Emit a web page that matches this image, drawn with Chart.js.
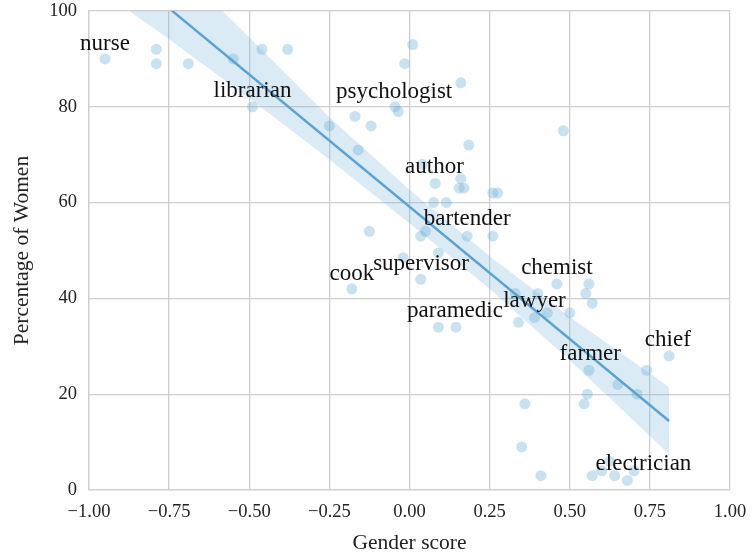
<!DOCTYPE html>
<html>
<head>
<meta charset="utf-8">
<script src="https://cdn.jsdelivr.net/npm/chart.js@4"></script>
<style>
  body { margin: 0; background: #fff; }
  #wrap { width: 752px; height: 557px; }
</style>
</head>
<body>
<div id="wrap"><canvas id="grafico"></canvas></div>
<script>
// pontos (gender score, % women)
const scoreX = [-0.95, -0.79, -0.79, -0.69, -0.55, -0.46, -0.38, -0.49, -0.25, -0.17, -0.12, -0.16,
  -0.045, -0.035, -0.015, 0.01, 0.16, 0.185, 0.48, 0.04, 0.08, 0.16, 0.155, 0.17, 0.26, 0.275,
  0.075, 0.115, 0.05, 0.035, 0.18, 0.26, -0.125, -0.02, 0.09, 0.035, -0.18, 0.09, 0.145,
  0.33, 0.40, 0.46, 0.56, 0.55, 0.57, 0.43, 0.50, 0.34, 0.39,
  0.56, 0.74, 0.65, 0.71, 0.81, 0.555, 0.545, 0.36, 0.35, 0.41,
  0.57, 0.60, 0.625, 0.64, 0.68, 0.70];
const womenY = [90, 92, 89, 89, 90, 92, 92, 80, 76, 78, 76, 71,
  80, 79, 89, 93, 85, 72, 75, 68, 64, 65, 63, 63, 62, 62,
  60, 60, 54, 53, 53, 53, 54, 48.5, 49.5, 44, 42, 34, 34,
  41, 41, 43, 43, 41, 39, 37, 37, 35, 36,
  25, 25, 22, 20, 28, 20, 18, 18, 9, 3,
  3, 4, 6, 3, 2, 4];

// reta de regressao e banda de confianca
const fitX = [-0.95, 0.81];
const fitY = [111.6, 14.4];
const bandX = [-0.95, -0.75, -0.5, -0.25, 0, 0.25, 0.5, 0.81];
const bandLow = [103.6, 94.1, 81.8, 69.0, 55.7, 42.0, 27.1, 7.5];
const bandHigh = [125.0, 111.0, 94.5, 77.8, 62.7, 48.8, 36.1, 21.5];

// rotulos das profissoes
const jobNames = ['nurse', 'librarian', 'psychologist', 'author', 'bartender', 'supervisor', 'cook',
  'paramedic', 'lawyer', 'chemist', 'chief', 'farmer', 'electrician'];
const jobX = [-0.95, -0.49, -0.048, 0.078, 0.18, 0.036, -0.18, 0.142, 0.39, 0.46, 0.806, 0.564, 0.73];
const jobY = [93.2, 83.3, 83.1, 67.4, 56.6, 47.2, 45.1, 37.4, 39.5, 46.3, 31.3, 28.4, 5.4];

const xTicks = [-1, -0.75, -0.5, -0.25, 0, 0.25, 0.5, 0.75, 1];
const yTicks = [0, 20, 40, 60, 80, 100];

const serif = "'Liberation Serif', serif";
const azul = 'rgb(94, 163, 208)';

function pares(xs, ys) {
  var out = [];
  for (var i = 0; i < xs.length; i++) {
    out.push({ x: xs[i], y: ys[i] });
  }
  return out;
}

const rotulos = {
  id: 'rotulos',
  afterDatasetsDraw(chart) {
    const ctx = chart.ctx;
    const sx = chart.scales.x, sy = chart.scales.y;
    ctx.save();
    ctx.font = '23px ' + serif;
    ctx.fillStyle = '#111';
    ctx.textAlign = 'center';
    ctx.textBaseline = 'middle';
    for (var i = 0; i < jobNames.length; i++) {
      ctx.fillText(jobNames[i], sx.getPixelForValue(jobX[i]), sy.getPixelForValue(jobY[i]));
    }
    ctx.restore();
  }
};

new Chart(document.getElementById('grafico'), {
  type: 'scatter',
  data: {
    datasets: [
      {
        type: 'line',
        data: pares(bandX, bandHigh),
        borderWidth: 0,
        pointRadius: 0,
        fill: '+1',
        backgroundColor: 'rgba(107, 174, 214, 0.25)',
        order: 3
      },
      {
        type: 'line',
        data: pares(bandX, bandLow),
        borderWidth: 0,
        pointRadius: 0,
        fill: false,
        order: 3
      },
      {
        data: pares(scoreX, womenY),
        pointRadius: 5.5,
        pointHoverRadius: 5.5,
        borderWidth: 0,
        backgroundColor: 'rgba(107, 174, 214, 0.36)',
        order: 2
      },
      {
        type: 'line',
        data: pares(fitX, fitY),
        borderColor: azul,
        borderWidth: 2.5,
        pointRadius: 0,
        fill: false,
        order: 1
      }
    ]
  },
  options: {
    responsive: true,
    maintainAspectRatio: false,
    animation: false,
    events: [],
    layout: { padding: { top: 11, right: 22, left: 0, bottom: 0 } },
    plugins: { legend: { display: false }, tooltip: { enabled: false } },
    scales: {
      x: {
        type: 'linear',
        min: -1,
        max: 1,
        afterBuildTicks: function (axis) { axis.ticks = xTicks.map(v => ({ value: v })); },
        afterFit: function (axis) {
          axis.height = 67;
          axis.paddingLeft = 0;
          axis.paddingRight = 0;
        },
        grid: { color: '#cfcfcf', lineWidth: 1.3, drawTicks: false },
        border: { color: '#cfcfcf', width: 1.3 },
        ticks: {
          padding: 11,
          color: '#222',
          font: { family: serif, size: 18.5 },
          callback: v => v.toFixed(2).replace('-', '\u2212')
        },
        title: {
          display: true,
          text: 'Gender score',
          color: '#222',
          font: { family: serif, size: 21.5 },
          padding: { top: 0, bottom: 1 }
        }
      },
      y: {
        min: 0,
        max: 100,
        afterBuildTicks: function (axis) { axis.ticks = yTicks.map(v => ({ value: v })); },
        afterFit: function (axis) {
          axis.width = 89;
          axis.paddingTop = 0;
          axis.paddingBottom = 0;
        },
        grid: { color: '#cfcfcf', lineWidth: 1.3, drawTicks: false },
        border: { color: '#cfcfcf', width: 1.3 },
        ticks: {
          padding: 12,
          color: '#222',
          font: { family: serif, size: 18.5 }
        },
        title: {
          display: true,
          text: 'Percentage of Women',
          color: '#222',
          font: { family: serif, size: 21.5 },
          padding: { top: 9, bottom: 0 }
        }
      }
    }
  },
  plugins: [rotulos]
});
</script>
</body>
</html>
